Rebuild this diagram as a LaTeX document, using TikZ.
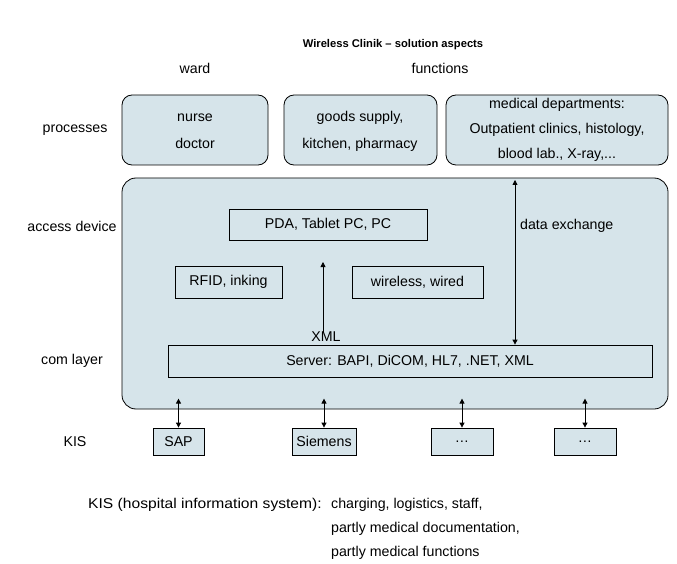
\documentclass[tikz,border=0pt]{standalone}
\usepackage{fontspec}
\setmainfont{Liberation Sans}
\usetikzlibrary{arrows.meta}
\definecolor{boxfill}{RGB}{214,228,234}
\begin{document}
\begin{tikzpicture}[x=1pt,y=-1pt,
  every node/.style={font=\fontsize{14.2}{17}\selectfont, inner sep=0pt},
  procbox/.style={draw, thick, fill=boxfill, rounded corners=10pt},
  inbox/.style={draw, thick},
  kisbox/.style={draw, thick, fill=boxfill},
  arr/.style={-{Triangle[length=5pt,width=5pt]}, thick},
  darr/.style={{Triangle[length=5pt,width=5pt]}-{Triangle[length=5pt,width=5pt]}, thick}]
\useasboundingbox (0,0) rectangle (677,564);
% title
\node[font=\fontsize{11.2}{14}\selectfont\bfseries] (title) at (393,45) {Wireless Clinik -- solution aspects};
\node (ward) at (195,68) {ward};
\node (func) at (440,68) {functions};
% left labels
\node (lproc) at (75,130) {processes};
\node (lacc) at (72,226) {access device};
\node (lcom) at (72,361) {com layer};
\node (lkis) at (75,442) {KIS};
% process boxes
\draw[procbox] (122,95) rectangle (268,165);
\node[align=center] (p1) at (195,131) {nurse\\[10pt]doctor};
\draw[procbox] (284,95) rectangle (437,165);
\node[align=center] (p2) at (360,131) {goods supply,\\[10pt]kitchen, pharmacy};
\draw[procbox] (446,95) rectangle (668,165);
\node[align=center] (p3) at (557,130) {medical departments:\\[8pt]Outpatient clinics, histology,\\[8pt]blood lab., X-ray,...};
% big box
\draw[procbox, rounded corners=14pt] (122,178) rectangle (668,409);
\node[inbox, minimum width=198pt, minimum height=31pt] (pda) at (328,224.5) {PDA, Tablet PC, PC};
\node[inbox, minimum width=107pt, minimum height=32pt] (rfid) at (228.5,282) {RFID, inking};
\node[inbox, minimum width=131pt, minimum height=32pt] (wire) at (417.5,282) {wireless, wired};
\node[inbox, minimum width=484pt, minimum height=32pt] (server) at (410,361) {Server: BAPI, DiCOM, HL7, .NET, XML};
\node (xml) at (326,337) {XML};
\coordinate (xmltop) at (323,262);
\draw[arr] (xml.north -| xmltop) -- (xmltop);
\coordinate (dtop) at (515,180);
\draw[darr] (dtop) -- (server.north -| dtop);
\node[anchor=west] (dex) at (520,226) {data exchange};
% KIS boxes
\node[kisbox, minimum width=51pt, minimum height=27pt] (sap) at (178.5,441.5) {SAP};
\node[kisbox, minimum width=64pt, minimum height=27pt] (sie) at (324,441.5) {Siemens};
\node[kisbox, minimum width=62pt, minimum height=27pt] (k3) at (462,441.5) {…};
\node[kisbox, minimum width=62pt, minimum height=27pt] (k4) at (585,441.5) {…};
\foreach \n in {sap,sie,k3,k4}{
  \coordinate (\n t) at ([yshift=29pt]\n.north);
  \draw[darr] (\n t) -- (\n.north);
}
% footnote
\node[anchor=base west, xscale=1.1, transform shape] (f1) at (88,508) {KIS (hospital information system):};
\node[anchor=base west] (f2) at (331,508) {charging, logistics, staff,};
\node[anchor=base west] (f3) at (331,532) {partly medical documentation,};
\node[anchor=base west] (f4) at (331,556) {partly medical functions};
\end{tikzpicture}
\end{document}
